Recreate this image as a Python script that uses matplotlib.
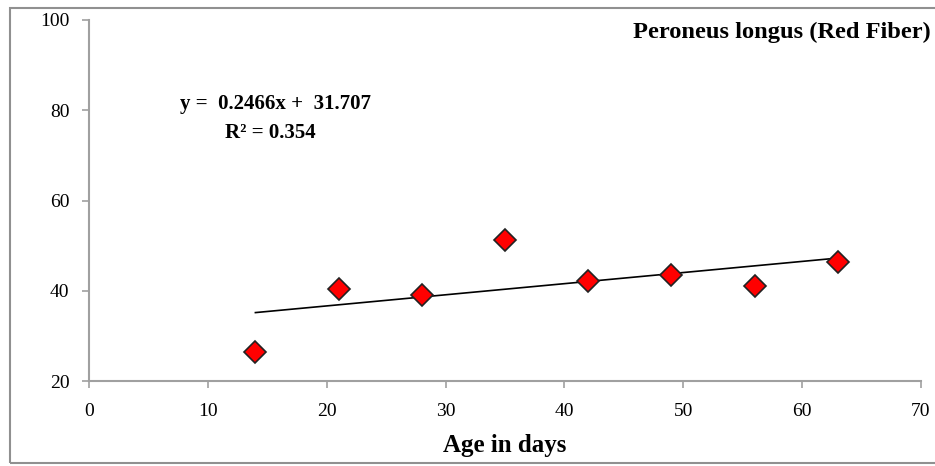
import matplotlib.pyplot as plt
from matplotlib.patches import Rectangle

# Age (days) vs. percentage of red fibres
age = [14, 21, 28, 35, 42, 49, 56, 63]
red_fiber = [26.4, 40.4, 39.1, 51.3, 42.2, 43.5, 41.1, 46.4]

# linear trend as reported
slope = 0.2466
intercept = 31.707
r_squared = 0.354

plt.rcParams['font.family'] = ['Liberation Serif', 'DejaVu Serif']

fig = plt.figure(figsize=(9.35, 4.66), dpi=100)
ax = fig.add_axes([89 / 935, 1 - 381 / 466, (921 - 89) / 935, (381 - 20) / 466])

trend_x = [min(age), max(age)]
trend_y = [slope * x + intercept for x in trend_x]
ax.plot(trend_x, trend_y, color='black', lw=1.2, zorder=2)
ax.plot(age, red_fiber, linestyle='none', marker='D', markersize=11,
        markerfacecolor='#ff0000', markeredgecolor='#222222', markeredgewidth=1.2, zorder=3)

ax.set_xlim(0, 70)
ax.set_ylim(20, 100)
ax.set_xticks(range(0, 71, 10))
ax.set_yticks(range(20, 101, 20))
for side in ('top', 'right'):
    ax.spines[side].set_visible(False)
for side in ('left', 'bottom'):
    ax.spines[side].set_color('#a0a0a0')
    ax.spines[side].set_linewidth(1.5)
ax.tick_params(direction='out', length=5, width=1.2, color='#a0a0a0', labelsize=14)
ax.tick_params(axis='x', pad=11)
ax.tick_params(axis='y', pad=9)

ax.set_xlabel('Age in days', fontsize=18, fontweight='bold', labelpad=10)

fig.text(931 / 935, 1 - 32 / 466, 'Peroneus longus (Red Fiber)', ha='right', va='center',
         fontsize=17.6, fontweight='bold')
fig.text(276 / 935, 1 - 104 / 466, f'y =  {slope}x +  {intercept}', ha='center', va='center',
         fontsize=15, fontweight='bold')
fig.text(270 / 935, 1 - 133 / 466, f'R² = {r_squared}', ha='center', va='center',
         fontsize=15, fontweight='bold')

# outer chart border
fig.patches.append(Rectangle((10 / 935, 3 / 466), 1.0, (463 - 8) / 466, transform=fig.transFigure,
                             fill=False, edgecolor='#909090', lw=1.5))

fig.savefig('out.png', dpi=100)
